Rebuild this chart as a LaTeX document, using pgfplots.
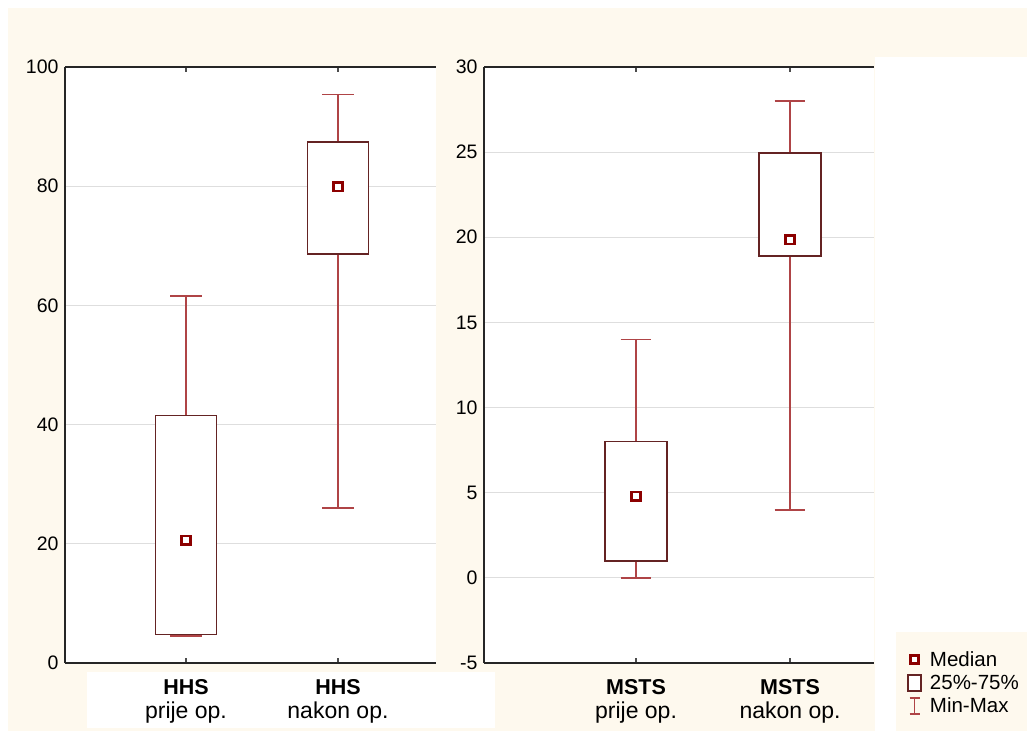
\documentclass[border=0pt]{standalone}
\usepackage{fontspec}
\setmainfont{Liberation Sans}
\usepackage{pgfplots}
\pgfplotsset{compat=1.18}
\usepgfplotslibrary{statistics}
\definecolor{cream}{RGB}{254,249,238}
\definecolor{boxc}{RGB}{100,35,35}
\definecolor{whiskc}{RGB}{175,68,70}
\definecolor{medc}{RGB}{140,0,0}
\pgfplotsset{myax/.style={
  scale only axis,
  axis x line=box, axis y line=left,
  axis line style={-, line width=1.4pt, draw=black!85},
  tick align=inside, major tick length=5pt,
  xtick={0,1},
  xtick style={line width=1.2pt, draw=black!70},
  ytick style={draw=none},
  ymajorgrids, grid style={line width=1.2pt, draw=black!13},
  axis background/.style={fill=white},
  /pgf/number format/assume math mode=true,
  yticklabel style={font=\fontsize{19.5}{21}\selectfont, text=black, xshift=-3pt},
  xticklabel style={font=\fontsize{23}{23.5}\selectfont, align=center, text=black, yshift=-13pt},
  boxplot/draw direction=y,
  boxplot/every box/.style={draw=boxc, line width=1.6pt, fill=white},
  boxplot/every whisker/.style={draw=whiskc, line width=1.6pt},
  boxplot/every median/.style={draw=none},
}}
\begin{document}
\begin{tikzpicture}
\useasboundingbox (0pt,0pt) rectangle (1027pt,731pt);
\fill[white] (0pt,0pt) rectangle (1027pt,731pt);
\fill[cream] (8pt,0pt) rectangle (1027pt,723pt);
\fill[white] (875pt,99pt) rectangle (1027pt,674pt);
\fill[white] (875pt,0pt) rectangle (896pt,99pt);
\fill[white] (87pt,3pt) rectangle (495pt,59pt);

\begin{axis}[myax, at={(65pt,68pt)}, anchor=south west,
  width=371pt, height=596pt,
  xmin=-0.796, xmax=1.645, ymin=0, ymax=100,
  ytick={0,20,40,60,80,100},
  xticklabels={{\fontsize{21.5}{23}\selectfont\textbf{HHS}\\prije op.},{\fontsize{21.5}{23}\selectfont\textbf{HHS}\\nakon op.}}]
\addplot[forget plot, boxplot prepared={draw direction=y, draw position=0, lower whisker=4.5, lower quartile=4.8, median=20.6, upper quartile=41.5, upper whisker=61.6, box extend=0.4, whisker extend=0.21}] coordinates {};
\addplot[forget plot, boxplot prepared={draw direction=y, draw position=1, lower whisker=26.0, lower quartile=68.6, median=79.9, upper quartile=87.4, upper whisker=95.4, box extend=0.4, whisker extend=0.21}] coordinates {};
\addplot[forget plot, only marks, mark=square*, mark size=4.3pt, mark options={draw=medc, fill=white, line width=2.6pt}] coordinates {(0,20.6) (1,79.9)};
\end{axis}

\begin{axis}[myax, at={(484pt,68pt)}, anchor=south west,
  width=390pt, height=596pt,
  xmin=-0.987, xmax=1.545, ymin=-5, ymax=30,
  ytick={-5,0,5,10,15,20,25,30},
  xticklabels={{\fontsize{21.5}{23}\selectfont\textbf{MSTS}\\prije op.},{\fontsize{21.5}{23}\selectfont\textbf{MSTS}\\nakon op.}},
  legend style={draw=none, fill=none, at={(1.085,0.023)}, anchor=north west,
    font=\fontsize{20.5}{22}\selectfont, row sep=3pt, inner sep=0pt,
    /tikz/every odd column/.append style={column sep=6pt}},
  legend cell align=left]
\addplot[forget plot, boxplot prepared={draw direction=y, draw position=0, lower whisker=0, lower quartile=1, median=4.8, upper quartile=8, upper whisker=14, box extend=0.4, whisker extend=0.2}] coordinates {};
\addplot[forget plot, boxplot prepared={draw direction=y, draw position=1, lower whisker=4, lower quartile=18.9, median=19.85, upper quartile=24.95, upper whisker=28, box extend=0.4, whisker extend=0.2}] coordinates {};
\addplot[forget plot, only marks, mark=square*, mark size=4.3pt, mark options={draw=medc, fill=white, line width=2.6pt}] coordinates {(0,4.8) (1,19.85)};
\addlegendimage{legend image code/.code={\draw[medc, line width=2.4pt, fill=white] (4pt,-4pt) rectangle (12pt,4pt);}}
\addlegendentry{Median}
\addlegendimage{legend image code/.code={\draw[boxc, line width=1.6pt, fill=white] (1.5pt,-8pt) rectangle (14.5pt,8pt);}}
\addlegendentry{25\%-75\%}
\addlegendimage{legend image code/.code={\draw[whiskc, line width=1.6pt] (8pt,-8pt) -- (8pt,8pt) (3pt,8pt) -- (13pt,8pt) (3pt,-8pt) -- (13pt,-8pt);}}
\addlegendentry{Min-Max}
\end{axis}
\end{tikzpicture}
\end{document}
